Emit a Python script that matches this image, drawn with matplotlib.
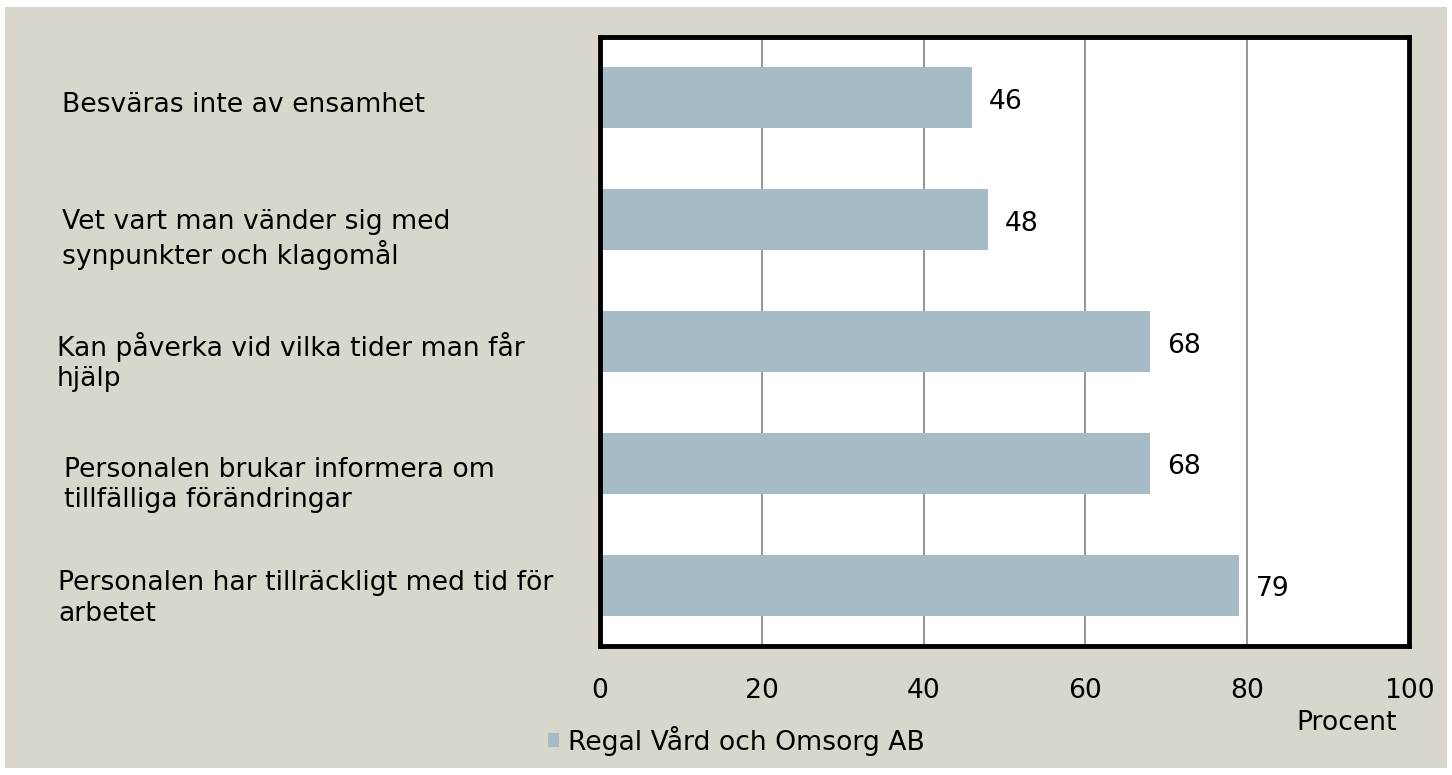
import matplotlib.pyplot as plt
from matplotlib.patches import Rectangle
import matplotlib.transforms as mtransforms

plt.rcParams['font.family'] = ['DejaVu Sans']

categories = ['Besväras inte av ensamhet',
              'Vet vart man vänder sig med\nsynpunkter och klagomål',
              'Kan påverka vid vilka tider man får\nhjälp',
              'Personalen brukar informera om\ntillfälliga förändringar',
              'Personalen har tillräckligt med tid för\narbetet']
values = [46, 48, 68, 68, 79]
series_name = 'Regal Vård och Omsorg AB'
xticks = [0, 20, 40, 60, 80, 100]

W, H = 1452, 775
bg = '#D9D7CB'
bar_color = '#A7BBC6'
fs = 19.2

fig = plt.figure(figsize=(W / 100, H / 100), dpi=100, facecolor='white')
# beige panel behind everything
fig.patches.append(Rectangle((5 / W, 7 / H), (W - 10) / W, (H - 14) / H,
                             transform=fig.transFigure, facecolor=bg,
                             edgecolor='none', zorder=-5))

ax = fig.add_axes([600 / W, 1 - 646 / H, (1409 - 600) / W, (646 - 37) / H])
ax.set_facecolor('white')
ypos = list(range(len(values)))
ax.barh(ypos, values, height=0.5, color=bar_color, zorder=2, label=series_name)
ax.set_xlim(0, 100)
ax.set_ylim(len(values) - 0.5, -0.5)
ax.set_xticks(xticks)
ax.set_xticklabels([str(t) for t in xticks], fontsize=fs)
ax.tick_params(axis='x', length=0, pad=23)
ax.set_yticks([])
ax.xaxis.grid(True, color='#8C8C8C', linewidth=1.3, zorder=1)
ax.set_axisbelow(True)
for s in ax.spines.values():
    s.set_linewidth(3.5)
    s.set_color('black')

for y, v in zip(ypos, values):
    ax.annotate(str(v), (v, y), xytext=(12, -3), textcoords='offset points',
                va='center', ha='left', fontsize=fs)

# category labels, placed in figure pixels on x, data on y
trans = mtransforms.blended_transform_factory(fig.transFigure, ax.transData)
label_x = [62, 62, 57, 64, 58]
label_dy = [0.06, 0.16, 0.17, 0.18, 0.11]
for y, lab, lx, dy in zip(ypos, categories, label_x, label_dy):
    ax.text(lx / W, y + dy, lab, transform=trans, ha='left', va='center',
            fontsize=fs, linespacing=1.22, clip_on=False)

# legend
fig.patches.append(Rectangle((548 / W, 1 - 747 / H), 11 / W, 14 / H,
                             transform=fig.transFigure, facecolor=bar_color,
                             edgecolor='none'))
fig.text(568 / W, 1 - 741 / H, series_name, ha='left', va='center', fontsize=fs)
fig.text(1347 / W, 1 - 723 / H, 'Procent', ha='center', va='center', fontsize=fs)

fig.savefig('out.png', dpi=100, facecolor='white')
